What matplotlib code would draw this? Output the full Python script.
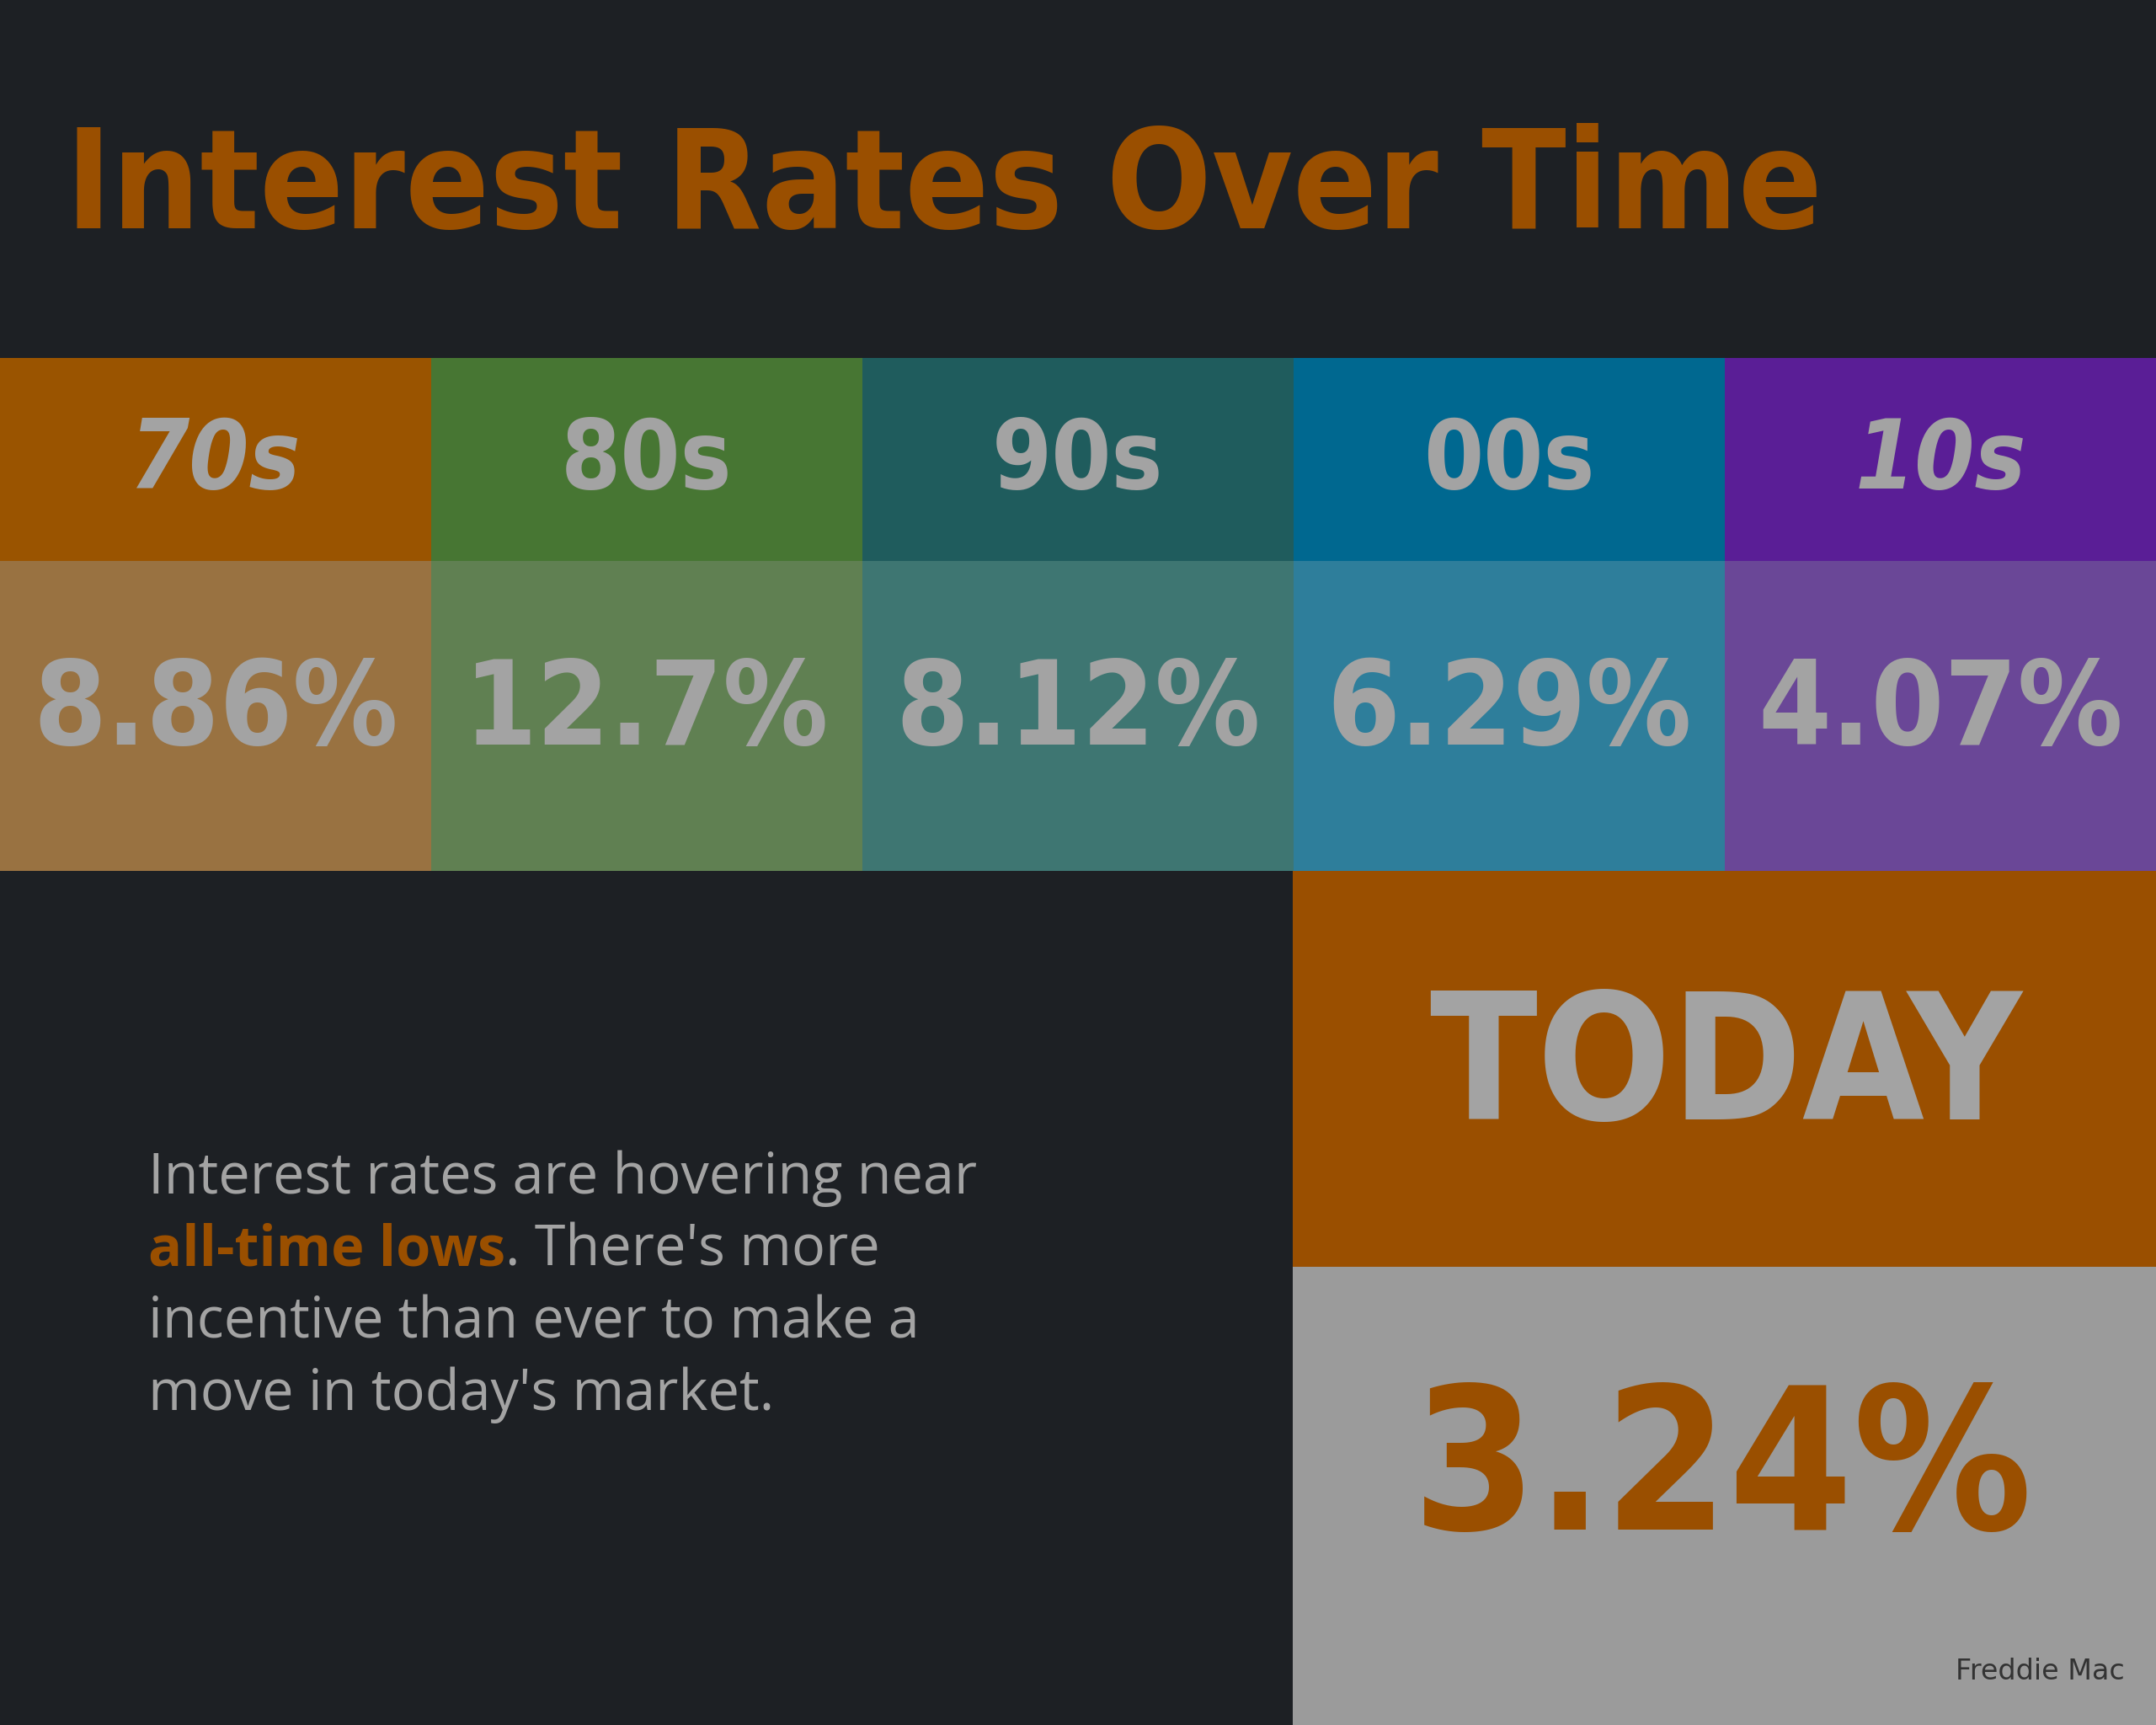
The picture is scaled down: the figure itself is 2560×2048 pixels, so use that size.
import matplotlib
matplotlib.use("Agg")
import matplotlib.pyplot as plt
from matplotlib.patches import Rectangle

decades = ["70s", "80s", "90s", "00s", "10s"]
rates = ["8.86%", "12.7%", "8.12%", "6.29%", "4.07%"]
today_label = "TODAY"
today_rate = "3.24%"
title = "Interest Rates Over Time"
source = "Freddie Mac"

head_colors = ["#9a5400", "#477633", "#1f5c5d", "#006890", "#5a1e96"]
body_colors = ["#997241", "#608052", "#3e7672", "#2e7e9b", "#6a4797"]
BG = "#1d2024"
ORANGE = "#9a4f00"
GREY_TXT = "#a3a3a3"

fig = plt.figure(figsize=(25.6, 20.48), dpi=100, facecolor=BG)
ax = fig.add_axes([0, 0, 1, 1])
ax.set_xlim(0, 1568)
ax.set_ylim(1254, 0)
ax.axis("off")
ax.set_facecolor(BG)

W = 1568 / 5
xs = [i * W for i in range(len(decades))]
ax.bar(xs, [148] * 5, width=W, bottom=260, align="edge", color=head_colors, linewidth=0)
ax.bar(xs, [225] * 5, width=W, bottom=408, align="edge", color=body_colors, linewidth=0)
for i, (d, r) in enumerate(zip(decades, rates)):
    cx = xs[i] + W / 2
    ax.text(cx, 336, d, ha="center", va="center", color=GREY_TXT, fontsize=82,
            fontweight="bold", fontstretch="condensed", family="DejaVu Sans",
            style="italic" if i in (0, 4) else "normal")
    ax.text(cx, 518, r, ha="center", va="center", color=GREY_TXT, fontsize=100,
            fontweight="bold", fontstretch="condensed", family="DejaVu Sans")

ax.add_patch(Rectangle((940, 633), 628, 288, color=ORANGE, lw=0))
ax.add_patch(Rectangle((940, 921), 628, 333, color="#9b9b9b", lw=0))
ax.text(1255, 778, today_label, ha="center", va="center", color=GREY_TXT, fontsize=150,
        fontweight="bold", fontstretch="condensed", family="DejaVu Sans")
ax.text(1253, 1072, today_rate, ha="center", va="center", color=ORANGE, fontsize=170,
        fontweight="bold", fontstretch="condensed", family="DejaVu Sans")
ax.text(1545, 1215, source, ha="right", va="center", color="#333333", fontsize=24)

ax.text(48, 138, title, ha="left", va="center", color=ORANGE, fontsize=118,
        fontweight="bold", fontstretch="condensed", family="DejaVu Sans")

body_kw = dict(fontsize=48, color=GREY_TXT, family="Open Sans", ha="left", va="center")
ax.text(108, 857, "Interest rates are hovering near", **body_kw)
t = ax.text(108, 909, "all-time lows", **{**body_kw, "color": ORANGE, "fontweight": "bold"})
ax.annotate(". There's more", xycoords=t, xy=(1, 0.5), va="center", ha="left",
            fontsize=48, color=GREY_TXT, family="Open Sans")
ax.text(108, 962, "incentive than ever to make a", **body_kw)
ax.text(108, 1014, "move in today's market.", **body_kw)

fig.savefig("out.png", dpi=100, facecolor=BG)
